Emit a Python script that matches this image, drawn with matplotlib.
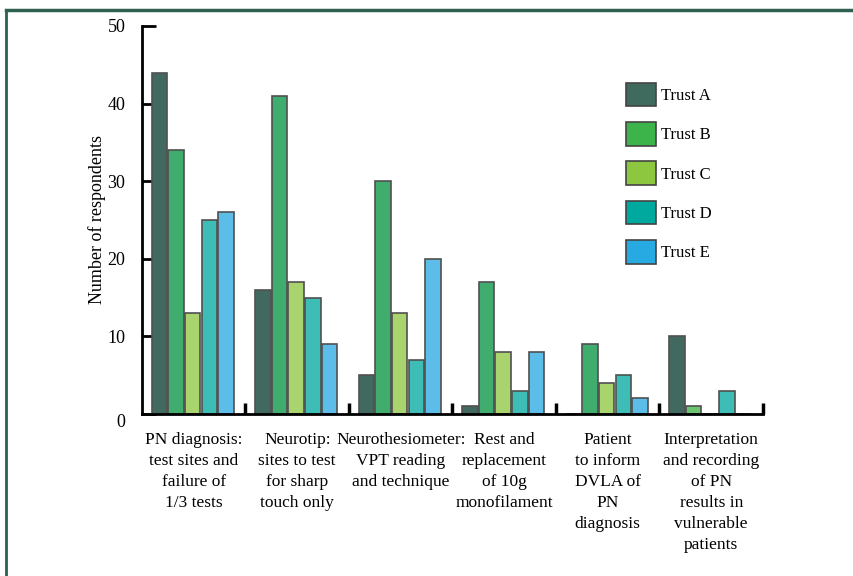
import matplotlib
matplotlib.use("Agg")
import matplotlib.pyplot as plt
from matplotlib.patches import Patch
from matplotlib.lines import Line2D
import numpy as np

plt.rcParams['font.family'] = ['Liberation Serif', 'DejaVu Serif']

categories = [
    "PN diagnosis:\ntest sites and\nfailure of\n1/3 tests",
    "Neurotip:\nsites to test\nfor sharp\ntouch only",
    "Neurothesiometer:\nVPT reading\nand technique",
    "Rest and\nreplacement\nof 10g\nmonofilament",
    "Patient\nto inform\nDVLA of\nPN\ndiagnosis",
    "Interpretation\nand recording\nof PN\nresults in\nvulnerable\npatients",
]
series_names = ["Trust A", "Trust B", "Trust C", "Trust D", "Trust E"]
trust_a = [44, 16, 5, 1, 0, 10]
trust_b = [34, 41, 30, 17, 9, 1]
trust_c = [13, 17, 13, 8, 4, 0]
trust_d = [25, 15, 7, 3, 5, 3]
trust_e = [26, 9, 20, 8, 2, 0]
series = [trust_a, trust_b, trust_c, trust_d, trust_e]

bar_colors = ['#41695F', '#40AD6E', '#A9D36D', '#3EBDB7', '#5CBDE8']
legend_colors = ['#3F6B5F', '#3CB44A', '#8DC63F', '#00A99D', '#27AAE1']

fig = plt.figure(figsize=(8.54, 5.76), dpi=100)
ax = fig.add_axes([142/854, 1-414/576, (763-142)/854, (414-26)/576])

x = np.arange(len(categories))
w = 0.15
step = 0.16
for i, vals in enumerate(series):
    bars = ax.bar(x + (i - 2) * step - 0.01, vals, width=w, color=bar_colors[i],
                  edgecolor='#505050', linewidth=1.2, zorder=2)
    if i == 1:
        bars[5].set_facecolor('#6CC56E')

ax.set_xlim(-0.5, len(categories) - 0.5)
ax.set_ylim(0, 50)
ax.set_yticks([0, 10, 20, 30, 40, 50])
ax.tick_params(axis='y', direction='in', length=10, width=2, labelsize=13, pad=12)
ax.set_xticks(np.arange(len(categories)) + 0.5, minor=False)
ax.set_xticklabels([])
ax.tick_params(axis='x', which='major', direction='in', length=8, width=2.5)
ax.set_xticks(x, minor=True)
ax.set_xticklabels(categories, minor=True, fontsize=12.5, linespacing=1.42, va='top')
ax.tick_params(axis='x', which='minor', length=0, pad=13)
for lab in ax.get_yticklabels():
    if lab.get_text() == '0':
        lab.set_va('top')
for s in ['top', 'right']:
    ax.spines[s].set_visible(False)
for s in ['left', 'bottom']:
    ax.spines[s].set_linewidth(2)
    ax.spines[s].set_color('black')
ax.set_ylabel("Number of respondents", fontsize=13, labelpad=1)

handles = [Patch(facecolor=c, edgecolor='#444444', linewidth=1.2, label=n)
           for c, n in zip(legend_colors, series_names)]
ax.legend(handles=handles, loc='upper left', bbox_to_anchor=(0.755, 0.893),
          frameon=False, fontsize=12, handlelength=1.8, handleheight=1.8,
          labelspacing=0.95, handletextpad=0.3)

# frame border
fig.add_artist(Line2D([6/854, 1], [1-10/576, 1-10/576], transform=fig.transFigure,
                      color='#2F5F50', linewidth=2.5))
fig.add_artist(Line2D([6/854, 6/854], [0, 1-10/576], transform=fig.transFigure,
                      color='#2F5F50', linewidth=2))

fig.savefig("out.png", dpi=100)
